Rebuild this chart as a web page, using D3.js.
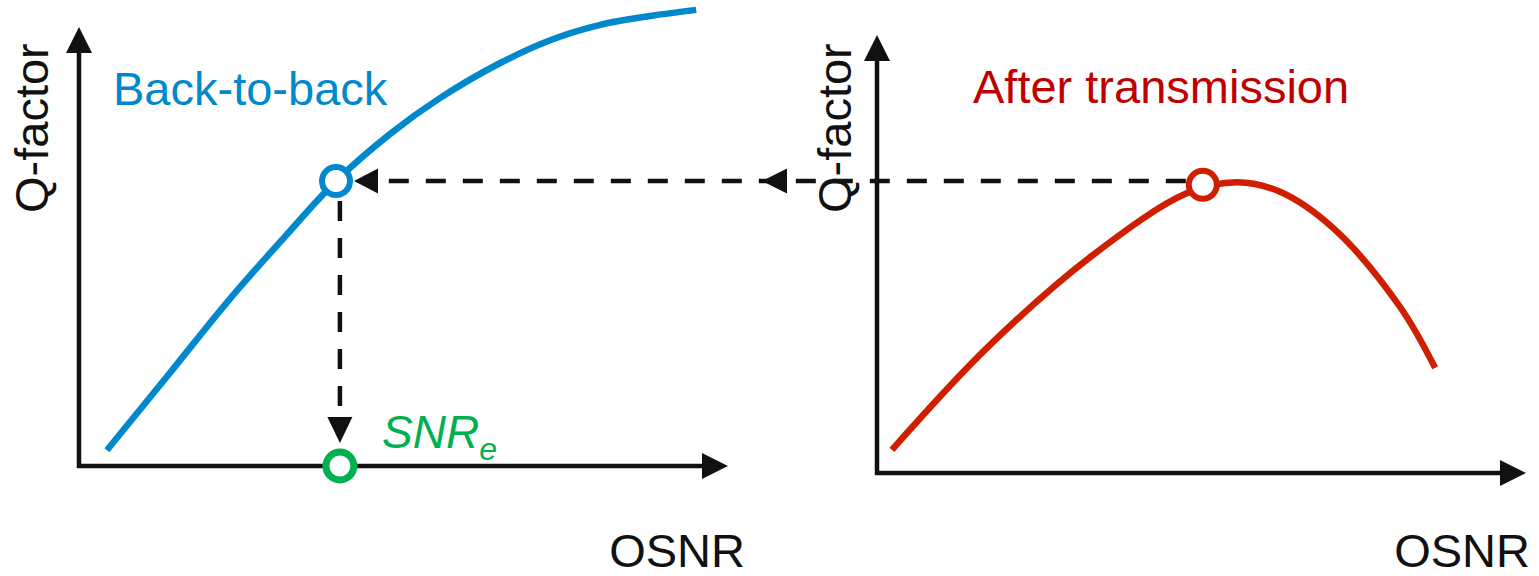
<!DOCTYPE html>
<html>
<head>
<meta charset="utf-8">
<script src="https://cdn.jsdelivr.net/npm/d3@7"></script>
<style>
  body { margin: 0; background: #fff; }
  text { font-family: "Liberation Sans", Arial, sans-serif; }
</style>
</head>
<body>
<svg id="chart" width="1539" height="576"></svg>
<script>
// curves, in arbitrary units (0..100 on each axis)
var b2bOsnr = [4.3, 14.0, 23.1, 31.7, 39.6, 47.9, 55.6, 64.9, 72.6, 80.3, 88.0, 95.1]
var b2bQ    = [3.6, 21.2, 37.8, 52.2, 64.9, 75.6, 83.8, 91.8, 97.0, 100.5, 102.5, 103.9]
var txOsnr  = [2.3, 17.1, 33.3, 47.8, 55.5, 62.1, 70.3, 80.6, 86.0]
var txQ     = [5.3, 28.8, 49.8, 63.9, 66.4, 64.2, 55.9, 37.9, 24.0]
// operating points
var b2bPoint = [39.6, 64.9]
var txPoint  = [50.2, 65.8]
var snrPoint = [40.2, 0]

var labels = {yTitle: "Q-factor", xTitle: "OSNR", left: "Back-to-back", right: "After transmission"}

var blue = "#0088cc", red = "#d01f00", green = "#00b050", ink = "#111"

var svg = d3.select('#chart')

// two panels, each with its own scales
var xL = d3.scaleLinear().domain([0, 100]).range([79, 728])
var yL = d3.scaleLinear().domain([0, 100]).range([466, 27])
var xR = d3.scaleLinear().domain([0, 100]).range([877, 1526])
var yR = d3.scaleLinear().domain([0, 100]).range([473, 35])

function arrowHead(g, tipX, tipY, dir, len, half) {
  // dir: 'up', 'down', 'left', 'right'
  var p
  if (dir == 'up') p = [[tipX, tipY], [tipX - half, tipY + len], [tipX + half, tipY + len]]
  if (dir == 'down') p = [[tipX, tipY], [tipX - half, tipY - len], [tipX + half, tipY - len]]
  if (dir == 'left') p = [[tipX, tipY], [tipX + len, tipY - half], [tipX + len, tipY + half]]
  if (dir == 'right') p = [[tipX, tipY], [tipX - len, tipY - half], [tipX - len, tipY + half]]
  g.append('polygon').attr('points', p.map(d => d.join(',')).join(' ')).attr('fill', ink)
}

function drawAxes(x, y) {
  var g = svg.append('g')
  var x0 = x.range()[0], x1 = x.range()[1]
  var y0 = y.range()[0], y1 = y.range()[1]
  g.append('path')
    .attr('d', 'M' + x0 + ',' + (y1 + 20) + 'V' + y0 + 'H' + (x1 - 20))
    .attr('fill', 'none').attr('stroke', ink).attr('stroke-width', 4.5)
  arrowHead(g, x0, y1, 'up', 26, 13)
  arrowHead(g, x1, y0, 'right', 26, 13)
}

function drawCurve(xs, ys, x, y, color) {
  var pts = xs.map((d, i) => [d, ys[i]])
  svg.append('path')
    .datum(pts)
    .attr('fill', 'none')
    .attr('stroke', color)
    .attr('stroke-width', 6.5)
    .attr('d', d3.line().x(d => x(d[0])).y(d => y(d[1])).curve(d3.curveCatmullRom.alpha(0.5)))
}

drawAxes(xL, yL)
drawAxes(xR, yR)
drawCurve(b2bOsnr, b2bQ, xL, yL, blue)
drawCurve(txOsnr, txQ, xR, yR, red)

// dashed mapping lines
var dash = svg.append('g')
var hy = yL(b2bPoint[1])
dash.append('line')
  .attr('x1', xR(txPoint[0]) - 17).attr('y1', hy)
  .attr('x2', xL(b2bPoint[0]) + 30).attr('y2', hy)
  .attr('stroke', ink).attr('stroke-width', 4.5).attr('stroke-dasharray', '20,17')
arrowHead(dash, xL(b2bPoint[0]) + 18, hy, 'left', 24, 12.5)
arrowHead(dash, 762, hy, 'left', 25, 12.5)

var vx = xL(snrPoint[0])
dash.append('line')
  .attr('x1', vx).attr('y1', yL(b2bPoint[1]) + 20)
  .attr('x2', vx).attr('y2', yL(0) - 40)
  .attr('stroke', ink).attr('stroke-width', 4.5).attr('stroke-dasharray', '20,17')
arrowHead(dash, vx, yL(0) - 23, 'down', 26, 12.5)

// operating point markers
function marker(x, y, pt, color, r, sw) {
  svg.append('circle')
    .attr('cx', x(pt[0])).attr('cy', y(pt[1])).attr('r', r)
    .attr('fill', '#fff').attr('stroke', color).attr('stroke-width', sw)
}
marker(xL, yL, b2bPoint, blue, 14, 6)
marker(xR, yR, txPoint, red, 14, 6)
marker(xL, yL, snrPoint, green, 14, 7)

// texts
var fs = 47
function yTitle(x, y) {
  svg.append('text')
    .attr('transform', 'translate(' + x + ',' + y + ') rotate(-90)')
    .attr('font-size', fs).attr('fill', ink)
    .text(labels.yTitle)
}
yTitle(48, 213)
yTitle(851, 213)

svg.append('text').attr('x', 745).attr('y', 567).attr('text-anchor', 'end')
  .attr('font-size', fs).attr('fill', ink).text(labels.xTitle)
svg.append('text').attr('x', 1530).attr('y', 567).attr('text-anchor', 'end')
  .attr('font-size', fs).attr('fill', ink).text(labels.xTitle)

svg.append('text').attr('x', 113).attr('y', 105)
  .attr('font-size', fs).attr('fill', blue).text(labels.left)
svg.append('text').attr('x', 973).attr('y', 103)
  .attr('font-size', fs).attr('fill', '#c00000').text(labels.right)

var snr = svg.append('text').attr('x', 382).attr('y', 448)
  .attr('font-size', 46).attr('font-style', 'italic').attr('fill', green)
snr.append('tspan').text('SNR')
snr.append('tspan').attr('font-size', 32).attr('dy', 12).text('e')
</script>
</body>
</html>
